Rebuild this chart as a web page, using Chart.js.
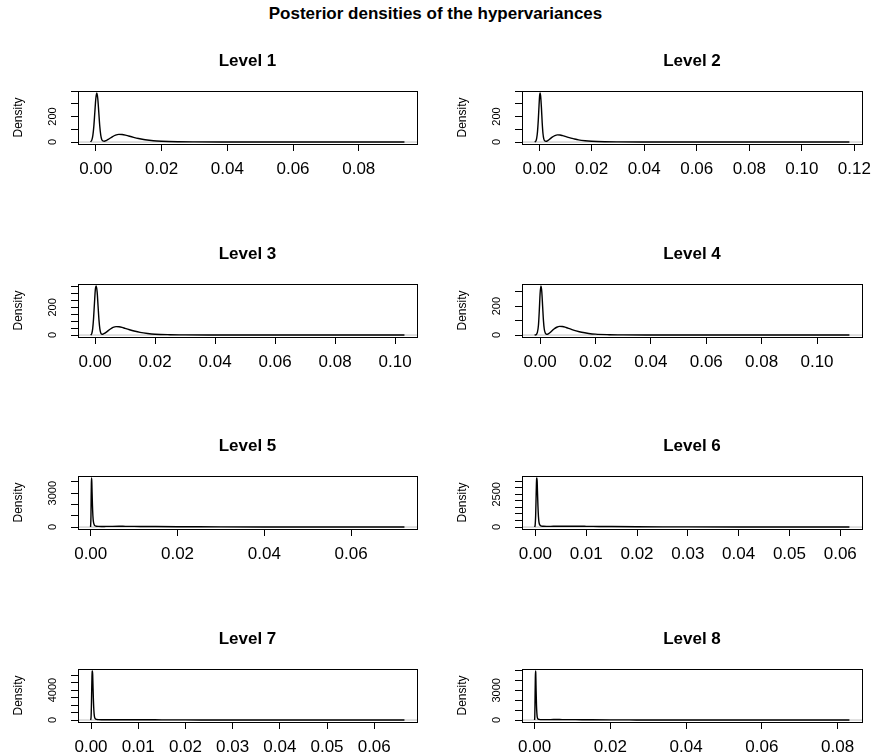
<!DOCTYPE html>
<html>
<head>
<meta charset="utf-8">
<title>Posterior densities of the hypervariances</title>
<script src="https://cdn.jsdelivr.net/npm/chart.js@4.4.1/dist/chart.umd.min.js"></script>
<style>
  body { margin: 0; background: #fff; overflow: hidden; }
  #page { position: relative; width: 871px; height: 756px; }
  #main { position: absolute; left: 0; top: 4px; width: 871px; text-align: center;
          font: bold 17px "Liberation Sans", Arial, sans-serif; line-height: 20px; color: #000; }
  canvas { position: absolute; }
</style>
</head>
<body>
<div id="page">
  <div id="main">Posterior densities of the hypervariances</div>
</div>
<script>
// panel titles
var levels = ["Level 1", "Level 2", "Level 3", "Level 4", "Level 5", "Level 6", "Level 7", "Level 8"];

// density estimates: grid points (x) and density (y) for each level
var level1X = [-0.0016, -0.0012, -0.0009, -0.0006, -0.0003, 0, 0.0003, 0.0006, 0.0009, 0.0012, 0.0015, 0.0018, 0.0022, 0.0026, 0.0032, 0.004, 0.005, 0.006, 0.007, 0.008, 0.009, 0.010, 0.0115, 0.013, 0.015, 0.0175, 0.020, 0.025, 0.030, 0.040, 0.055, 0.075, 0.0939];
var level1Y = [1, 17, 52, 125, 234, 340, 385, 340, 234, 126, 54, 20, 8, 6, 12, 24, 41, 54, 60, 59, 54, 47, 37, 28, 18, 10, 6, 2.5, 1.2, 0.4, 0.1, 0.03, 0];

var level2X = [-0.0017, -0.0012, -0.0009, -0.0006, -0.0003, 0, 0.0002, 0.0004, 0.0006, 0.0009, 0.0012, 0.0015, 0.0018, 0.0022, 0.0026, 0.0032, 0.004, 0.005, 0.006, 0.007, 0.008, 0.009, 0.010, 0.0115, 0.013, 0.015, 0.0175, 0.020, 0.025, 0.030, 0.040, 0.055, 0.075, 0.095, 0.1181];
var level2Y = [0, 8, 30, 80, 170, 290, 360, 385, 360, 270, 150, 65, 25, 8, 6, 10, 22, 38, 50, 56, 55, 50, 44, 35, 27, 17, 10, 6, 2.5, 1.2, 0.4, 0.1, 0.03, 0.01, 0];

var level3X = [-0.0015, -0.0011, -0.0008, -0.0005, -0.0002, 0.0001, 0.0004, 0.0007, 0.0010, 0.0013, 0.0016, 0.0019, 0.0023, 0.0027, 0.0033, 0.004, 0.005, 0.006, 0.007, 0.008, 0.009, 0.010, 0.0115, 0.013, 0.015, 0.0175, 0.020, 0.025, 0.030, 0.040, 0.055, 0.075, 0.1031];
var level3Y = [0, 10, 45, 120, 230, 330, 355, 310, 210, 110, 45, 15, 6, 7, 14, 25, 42, 55, 61, 60, 55, 48, 38, 29, 19, 11, 6, 2.5, 1.2, 0.4, 0.1, 0.02, 0];

var level4X = [-0.002, -0.0014, -0.001, -0.0006, -0.0003, 0, 0.0003, 0.0006, 0.0009, 0.0012, 0.0015, 0.0019, 0.0023, 0.0028, 0.0034, 0.0042, 0.005, 0.006, 0.007, 0.008, 0.009, 0.010, 0.0115, 0.013, 0.015, 0.0175, 0.020, 0.025, 0.030, 0.040, 0.055, 0.080, 0.1117];
var level4Y = [0, 3, 18, 70, 170, 290, 340, 300, 200, 100, 40, 12, 5, 7, 14, 28, 42, 54, 60, 59, 55, 48, 38, 29, 19, 11, 6, 2.5, 1.2, 0.4, 0.1, 0.02, 0];

var level5X = [-0.00004, 0.00005, 0.0001, 0.00015, 0.0002, 0.00025, 0.0003, 0.0004, 0.0005, 0.0006, 0.0008, 0.001, 0.0013, 0.0018, 0.0025, 0.0035, 0.005, 0.0065, 0.008, 0.01, 0.0125, 0.015, 0.02, 0.025, 0.03, 0.04, 0.05, 0.06, 0.0723];
var level5Y = [0, 900, 2600, 3900, 4350, 4000, 3200, 1900, 1000, 520, 210, 110, 70, 55, 50, 55, 62, 65, 63, 58, 50, 42, 30, 20, 13, 6, 3, 1.2, 0];

var level6X = [-0.00016, -0.00005, 0.00005, 0.00015, 0.0002, 0.00025, 0.0003, 0.00035, 0.0004, 0.0005, 0.0006, 0.0007, 0.0009, 0.0012, 0.0016, 0.0022, 0.003, 0.004, 0.005, 0.0065, 0.008, 0.01, 0.0125, 0.015, 0.02, 0.025, 0.03, 0.04, 0.05, 0.0618];
var level6Y = [0, 150, 900, 2500, 3300, 3700, 3750, 3450, 2800, 1600, 800, 380, 140, 75, 55, 50, 52, 58, 62, 63, 60, 54, 45, 37, 25, 16, 10, 4, 1.5, 0];

var level7X = [-0.0001, 0, 0.0001, 0.00015, 0.0002, 0.00025, 0.0003, 0.00035, 0.0004, 0.0005, 0.0006, 0.0007, 0.0009, 0.0012, 0.0016, 0.0022, 0.003, 0.004, 0.005, 0.0065, 0.008, 0.01, 0.0125, 0.015, 0.02, 0.025, 0.03, 0.04, 0.05, 0.0664];
var level7Y = [0, 300, 2450, 4300, 5750, 6450, 6550, 6050, 4900, 2750, 1300, 550, 180, 80, 50, 40, 40, 42, 44, 44, 42, 38, 32, 27, 18, 12, 8, 3, 1, 0];

var level8X = [0, 0.00005, 0.0001, 0.00015, 0.0002, 0.00025, 0.0003, 0.00035, 0.0004, 0.0005, 0.0006, 0.0007, 0.0009, 0.0012, 0.0016, 0.0022, 0.003, 0.004, 0.005, 0.0065, 0.008, 0.01, 0.0125, 0.015, 0.02, 0.025, 0.03, 0.04, 0.055, 0.07, 0.0831];
var level8Y = [0, 350, 1500, 3000, 4300, 4950, 4800, 4000, 3000, 1500, 700, 300, 110, 60, 45, 40, 42, 45, 47, 47, 45, 41, 35, 29, 20, 13, 8, 3, 0.8, 0.2, 0];

// axis ticks
var xSteps = [0.02, 0.02, 0.02, 0.02, 0.02, 0.01, 0.01, 0.02];
var ySteps = [100, 100, 50, 100, 1000, 500, 1000, 1000];
var yLabelled = [[0, 200], [0, 200], [0, 200], [0, 200], [0, 3000], [0, 2500], [0, 4000], [0, 3000]];

var densX = [level1X, level2X, level3X, level4X, level5X, level6X, level7X, level8X];
var densY = [level1Y, level2Y, level3Y, level4Y, level5Y, level6Y, level7Y, level8Y];

// plot boxes on the page, 4 rows x 2 columns
var colLeft = [78, 522], colRight = [417, 862];
var rowTop = [91, 284, 476, 669];
var boxH = 53;

var FONT = '"Liberation Sans", Arial, Helvetica, sans-serif';
var Y_TICK_PX = 11;
Chart.defaults.font.family = FONT;
Chart.defaults.color = '#000';

var measureCtx = document.createElement('canvas').getContext('2d');
function textWidth(s, px) {
  measureCtx.font = px + 'px ' + FONT;
  return measureCtx.measureText(s).width;
}

// tick values 0, step, 2*step ... up to the axis maximum
function tickValues(step, max) {
  var out = [];
  for (var k = 0; k * step <= max + step * 1e-9; k++) {
    out.push(Math.round(k * step * 1e6) / 1e6);
  }
  return out;
}

// full frame around the plot region
var boxPlugin = {
  id: 'plotBox',
  afterDraw: function(chart) {
    var a = chart.chartArea, ctx = chart.ctx;
    ctx.save();
    ctx.strokeStyle = '#000';
    ctx.lineWidth = 1;
    ctx.strokeRect(Math.round(a.left) + 0.5, Math.round(a.top) + 0.5,
                   Math.round(a.right - a.left), Math.round(a.bottom - a.top));
    ctx.restore();
  }
};

function panel(i) {
  var col = i % 2, row = Math.floor(i / 2);
  var cvLeft = col === 0 ? 0 : 435;
  var cvWidth = col === 0 ? 435 : 436;
  var boxL = colLeft[col] - cvLeft;
  var boxR = colRight[col] - cvLeft;

  var canvas = document.createElement('canvas');
  canvas.width = cvWidth;
  canvas.height = 50 + boxH + 40;
  canvas.style.left = cvLeft + 'px';
  canvas.style.top = (rowTop[row] - 50) + 'px';
  document.getElementById('page').appendChild(canvas);

  var xs = densX[i], ys = densY[i];
  var xLo = xs[0], xHi = xs[xs.length - 1];
  var xPad = 0.04 * (xHi - xLo);
  var yTop = Math.max.apply(null, ys);
  var labels = yLabelled[i];
  var widest = Math.max.apply(null, labels.map(function(v) { return textWidth(String(v), Y_TICK_PX); }));

  var tickGrid = { drawOnChartArea: false, color: '#000', tickLength: 7, lineWidth: 1 };

  return new Chart(canvas, {
    type: 'line',
    data: {
      datasets: [
        {
          data: xs.map(function(x, k) { return { x: x, y: ys[k] }; }),
          borderColor: '#000',
          borderWidth: 1.4,
          pointRadius: 0,
          cubicInterpolationMode: 'monotone',
          fill: false
        },
        {
          // zero line across the whole plot
          data: [{ x: xLo - xPad, y: 0 }, { x: xHi + xPad, y: 0 }],
          borderColor: '#bebebe',
          borderWidth: 1,
          pointRadius: 0,
          fill: false
        }
      ]
    },
    options: {
      responsive: false,
      animation: false,
      events: [],
      layout: { padding: { left: 0, right: cvWidth - boxR, top: 0, bottom: 0 } },
      plugins: {
        legend: { display: false },
        tooltip: { enabled: false },
        title: {
          display: true,
          text: levels[i],
          fullSize: false,
          color: '#000',
          font: { size: 17, weight: 'bold', lineHeight: 1 },
          padding: { top: 11.5, bottom: 21.5 }
        }
      },
      scales: {
        x: {
          type: 'linear',
          min: xLo - xPad,
          max: xHi + xPad,
          grid: tickGrid,
          border: { color: '#000', width: 1 },
          afterBuildTicks: function(s) {
            s.ticks = tickValues(xSteps[i], s.max).map(function(v) { return { value: v }; });
          },
          ticks: {
            autoSkip: false,
            maxRotation: 0,
            padding: 8,
            color: '#000',
            font: { size: 17 },
            callback: function(v) { return Number(v).toFixed(2); }
          },
          afterFit: function(s) { s.height = 40; s.paddingLeft = 0; s.paddingRight = 0; }
        },
        y: {
          type: 'linear',
          min: -0.04 * yTop,
          max: 1.04 * yTop,
          grid: tickGrid,
          border: { color: '#000', width: 1 },
          afterBuildTicks: function(s) {
            s.ticks = tickValues(ySteps[i], s.max).map(function(v) { return { value: v }; });
          },
          ticks: {
            autoSkip: false,
            minRotation: 90,
            maxRotation: 90,
            crossAlign: 'center',
            padding: 25 - 7 - widest / 2,
            color: '#000',
            font: { size: Y_TICK_PX },
            callback: function(v) { return labels.indexOf(Math.round(v)) >= 0 ? String(Math.round(v)) : ''; }
          },
          title: {
            display: true,
            text: 'Density',
            color: '#000',
            font: { size: 12 },
            padding: { top: boxL - 59 - 7.2, bottom: 0 }
          },
          afterFit: function(s) { s.width = boxL; s.paddingTop = 0; s.paddingBottom = 0; }
        }
      }
    },
    plugins: [boxPlugin]
  });
}

for (var p = 0; p < levels.length; p++) {
  panel(p);
}
</script>
</body>
</html>
